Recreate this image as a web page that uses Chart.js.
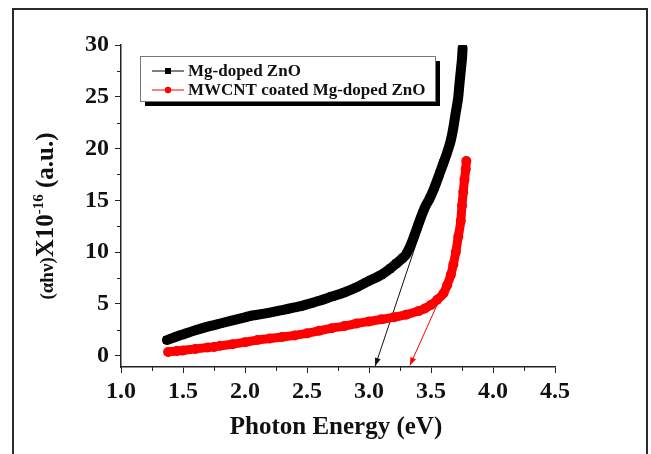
<!DOCTYPE html>
<html>
<head>
<meta charset="utf-8">
<script src="https://cdn.jsdelivr.net/npm/chart.js@4.4.0/dist/chart.umd.min.js"></script>
<style>
  body { margin: 0; background: #fff; }
  #wrap { width: 651px; height: 454px; }
</style>
</head>
<body>
<div id="wrap"><canvas id="chart" width="651" height="454"></canvas></div>
<script>
const serif = '"Liberation Serif", "Times New Roman", serif';

// Mg-doped ZnO (black squares)
const mgEnergy = [1.37, 1.45, 1.50, 1.60, 1.70, 1.75, 1.80, 1.90, 2.00, 2.07, 2.10, 2.20, 2.30, 2.40,
  2.44, 2.50, 2.60, 2.70, 2.80, 2.90, 2.98, 3.05, 3.10, 3.17, 3.22, 3.27, 3.30, 3.33, 3.36, 3.39,
  3.42, 3.45, 3.49, 3.53, 3.57, 3.60, 3.63, 3.66, 3.68, 3.70, 3.72, 3.73, 3.74, 3.75, 3.755];
const mgSignal = [1.5, 1.85, 2.05, 2.45, 2.8, 2.95, 3.1, 3.4, 3.7, 3.9, 3.95, 4.15, 4.4, 4.65,
  4.75, 4.95, 5.3, 5.7, 6.1, 6.6, 7.1, 7.5, 7.8, 8.4, 8.9, 9.4, 9.8, 10.5, 11.4, 12.4,
  13.4, 14.3, 15.2, 16.3, 17.6, 18.6, 19.6, 20.8, 22.0, 23.5, 25.0, 26.3, 27.5, 28.7, 29.7];

// MWCNT coated Mg-doped ZnO (red circles)
const cntEnergy = [1.38, 1.45, 1.50, 1.60, 1.70, 1.75, 1.80, 1.90, 2.00, 2.10, 2.20, 2.30, 2.40,
  2.50, 2.60, 2.70, 2.80, 2.90, 3.00, 3.10, 3.20, 3.30, 3.40, 3.45, 3.50, 3.55, 3.60, 3.63,
  3.66, 3.68, 3.70, 3.72, 3.74, 3.75, 3.76, 3.77, 3.78, 3.785];
const cntSignal = [0.35, 0.45, 0.5, 0.65, 0.78, 0.84, 0.95, 1.1, 1.3, 1.5, 1.65, 1.8, 1.95,
  2.15, 2.4, 2.65, 2.85, 3.1, 3.3, 3.5, 3.7, 3.95, 4.3, 4.55, 4.9, 5.4, 6.0, 6.8,
  7.8, 8.8, 10.0, 11.5, 13.0, 14.5, 15.8, 17.0, 18.0, 18.8];

// band-gap tangent arrows (start on the curve, tip on the energy axis)
const mgTangentEnergy = [3.40, 3.05];
const mgTangentSignal = [11.5, -1.0];
const cntTangentEnergy = [3.56, 3.33];
const cntTangentSignal = [5.2, -0.95];

const seriesNames = ['Mg-doped ZnO', 'MWCNT coated Mg-doped ZnO'];
const xMajor = [1.0, 1.5, 2.0, 2.5, 3.0, 3.5, 4.0, 4.5];
const xMinor = [1.25, 1.75, 2.25, 2.75, 3.25, 3.75, 4.25];
const yMajor = [0, 5, 10, 15, 20, 25, 30];
const yMinor = [2.5, 7.5, 12.5, 17.5, 22.5, 27.5];

function pairs(xs, ys) {
  return xs.map((x, i) => ({ x: x, y: ys[i] }));
}

// outer frame round the whole figure
const framePlugin = {
  id: 'frame',
  beforeDraw(chart) {
    const ctx = chart.ctx;
    ctx.save();
    ctx.fillStyle = '#fff';
    ctx.fillRect(0, 0, chart.width, chart.height);
    ctx.strokeStyle = '#2a2a2a';
    ctx.lineWidth = 2;
    ctx.strokeRect(13, 9, 634, 460);
    ctx.restore();
  }
};

// short minor ticks between the labelled ones
const minorTickPlugin = {
  id: 'minorTicks',
  afterDraw(chart) {
    const ctx = chart.ctx;
    const xs = chart.scales.x, ys = chart.scales.y;
    ctx.save();
    ctx.strokeStyle = '#222';
    ctx.lineWidth = 1;
    ctx.beginPath();
    xMinor.forEach(v => {
      const px = Math.round(xs.getPixelForValue(v)) + 0.5;
      ctx.moveTo(px, ys.bottom);
      ctx.lineTo(px, ys.bottom + 4);
    });
    yMinor.forEach(v => {
      const py = Math.round(ys.getPixelForValue(v)) + 0.5;
      ctx.moveTo(xs.left, py);
      ctx.lineTo(xs.left - 4, py);
    });
    ctx.stroke();
    ctx.restore();
  }
};

// arrowheads at the end of the tangent lines
const arrowPlugin = {
  id: 'arrows',
  afterDatasetsDraw(chart) {
    const ctx = chart.ctx;
    chart.data.datasets.forEach((ds, i) => {
      if (!ds.isArrow) return;
      const pts = chart.getDatasetMeta(i).data;
      const a = pts[pts.length - 2], b = pts[pts.length - 1];
      const ang = Math.atan2(b.y - a.y, b.x - a.x);
      const len = 8, half = 3;
      ctx.save();
      ctx.translate(b.x, b.y);
      ctx.rotate(ang);
      ctx.fillStyle = ds.borderColor;
      ctx.beginPath();
      ctx.moveTo(0, 0);
      ctx.lineTo(-len, -half);
      ctx.lineTo(-len, half);
      ctx.closePath();
      ctx.fill();
      ctx.restore();
    });
  }
};

// boxed legend with drop shadow, axis titles
const labelPlugin = {
  id: 'labels',
  afterDraw(chart) {
    const ctx = chart.ctx;
    const xs = chart.scales.x, ys = chart.scales.y;
    ctx.save();

    // legend
    const bx = 140, by = 56, bw = 295, bh = 45;
    ctx.fillStyle = '#000';
    ctx.fillRect(bx + bw, by + 5, 5, bh);
    ctx.fillRect(bx + 5, by + bh, bw, 5);
    ctx.fillStyle = '#fff';
    ctx.fillRect(bx, by, bw, bh);
    ctx.strokeStyle = '#777';
    ctx.lineWidth = 1;
    ctx.strokeRect(bx + 0.5, by + 0.5, bw, bh);

    const rows = [
      { color: '#000', style: 'rect', y: by + 15 },
      { color: '#f00', style: 'circle', y: by + 34 }
    ];
    rows.forEach((r, i) => {
      ctx.strokeStyle = r.color;
      ctx.lineWidth = 1;
      ctx.beginPath();
      ctx.moveTo(152, r.y);
      ctx.lineTo(184, r.y);
      ctx.stroke();
      ctx.fillStyle = r.color;
      if (r.style === 'rect') {
        ctx.fillRect(165, r.y - 3, 6, 6);
      } else {
        ctx.beginPath();
        ctx.arc(168, r.y, 3.2, 0, Math.PI * 2);
        ctx.fill();
      }
      ctx.fillStyle = '#111';
      ctx.font = 'bold 17px ' + serif;
      ctx.textBaseline = 'middle';
      ctx.textAlign = 'left';
      ctx.fillText(seriesNames[i], 188, r.y + 1);
    });

    // x title
    ctx.fillStyle = '#111';
    ctx.font = 'bold 25px ' + serif;
    ctx.textAlign = 'center';
    ctx.textBaseline = 'alphabetic';
    ctx.fillText('Photon Energy (eV)', (xs.left + xs.right) / 2 - 2, 434);

    // y title, rotated, with superscript
    const parts = [
      { t: '(\u03b1h\u03bd)', f: 'bold 19px ' + serif, dy: 0 },
      { t: 'X10', f: 'bold 25px ' + serif, dy: 0 },
      { t: '-16', f: 'bold 15px ' + serif, dy: -10 },
      { t: ' (a.u.)', f: 'bold 25px ' + serif, dy: 0 }
    ];
    let total = 0;
    parts.forEach(p => { ctx.font = p.f; p.w = ctx.measureText(p.t).width; total += p.w; });
    ctx.translate(53, 216);
    ctx.rotate(-Math.PI / 2);
    ctx.textAlign = 'left';
    let cx = -total / 2;
    parts.forEach(p => {
      ctx.font = p.f;
      ctx.fillText(p.t, cx, p.dy);
      cx += p.w;
    });
    ctx.restore();
  }
};

const ctx = document.getElementById('chart').getContext('2d');

new Chart(ctx, {
  type: 'line',
  data: {
    datasets: [
      {
        label: seriesNames[0],
        data: pairs(mgEnergy, mgSignal),
        borderColor: '#000',
        backgroundColor: '#000',
        borderWidth: 10,
        pointStyle: 'rect',
        pointRadius: 5.5,
        pointBorderWidth: 0,
        cubicInterpolationMode: 'monotone',
        borderCapStyle: 'round'
      },
      {
        label: seriesNames[1],
        data: pairs(cntEnergy, cntSignal),
        borderColor: '#f00',
        backgroundColor: '#f00',
        borderWidth: 9,
        pointStyle: 'circle',
        pointRadius: 5,
        pointBorderWidth: 0,
        cubicInterpolationMode: 'monotone',
        borderCapStyle: 'round'
      },
      {
        label: 'mg tangent',
        isArrow: true,
        data: pairs(mgTangentEnergy, mgTangentSignal),
        borderColor: '#111',
        borderWidth: 1,
        pointRadius: 0
      },
      {
        label: 'cnt tangent',
        isArrow: true,
        data: pairs(cntTangentEnergy, cntTangentSignal),
        borderColor: '#f00',
        borderWidth: 1,
        pointRadius: 0
      }
    ]
  },
  options: {
    responsive: false,
    animation: false,
    layout: { padding: { left: 0, top: 45, right: 96, bottom: 0 } },
    plugins: {
      legend: { display: false },
      tooltip: { enabled: false }
    },
    scales: {
      x: {
        type: 'linear',
        min: 1.0,
        max: 4.5,
        afterBuildTicks: s => { s.ticks = xMajor.map(v => ({ value: v })); },
        afterFit: s => { s.height = 87; },
        border: { display: true, color: '#222', width: 1.5 },
        grid: { drawOnChartArea: false, drawTicks: true, tickLength: 6, color: '#222' },
        ticks: {
          color: '#111',
          padding: 4,
          maxRotation: 0,
          font: { family: serif, size: 24, weight: 'bold' },
          callback: v => v.toFixed(1)
        }
      },
      y: {
        type: 'linear',
        min: -1.1,
        max: 30,
        afterBuildTicks: s => { s.ticks = yMajor.map(v => ({ value: v })); },
        afterFit: s => { s.width = 121; },
        border: { display: true, color: '#222', width: 1.5 },
        grid: { drawOnChartArea: false, drawTicks: true, tickLength: 6, color: '#222' },
        ticks: {
          color: '#111',
          padding: 6,
          font: { family: serif, size: 24, weight: 'bold' },
          callback: v => String(v)
        }
      }
    }
  },
  plugins: [framePlugin, minorTickPlugin, arrowPlugin, labelPlugin]
});
</script>
</body>
</html>
